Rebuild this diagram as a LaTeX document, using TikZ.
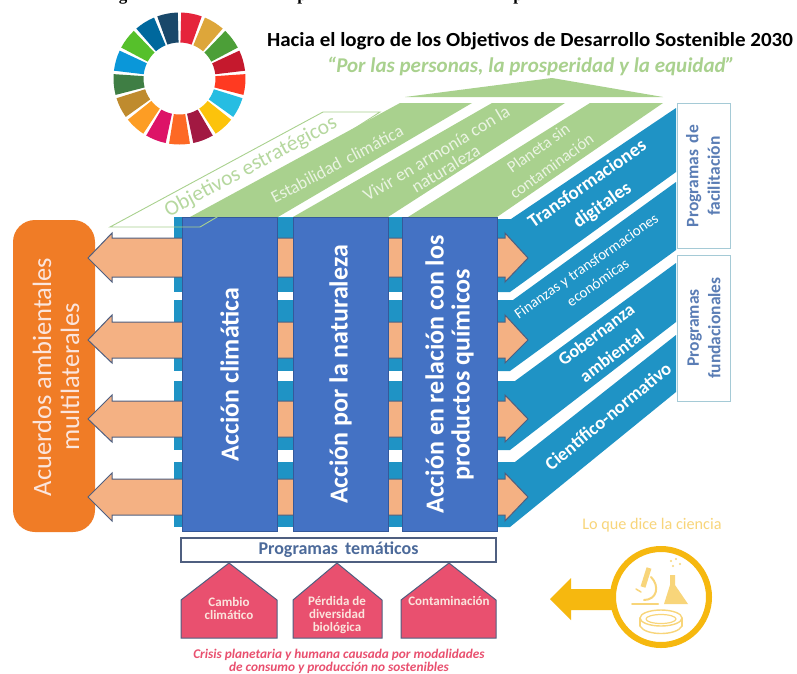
\documentclass[tikz,border=0pt]{standalone}
\usepackage{fontspec}
\setmainfont{Carlito}
\newfontfamily\titleserif{Liberation Serif}
\usetikzlibrary{shapes.geometric}
\definecolor{sdgA}{HTML}{E5243B}\definecolor{sdgB}{HTML}{DDA63A}\definecolor{sdgC}{HTML}{4C9F38}
\definecolor{sdgD}{HTML}{C5192D}\definecolor{sdgE}{HTML}{FF3A21}\definecolor{sdgF}{HTML}{26BDE2}
\definecolor{sdgG}{HTML}{FCC30B}\definecolor{sdgH}{HTML}{A21942}\definecolor{sdgI}{HTML}{FD6925}
\definecolor{sdgJ}{HTML}{DD1367}\definecolor{sdgK}{HTML}{FD9D24}\definecolor{sdgL}{HTML}{BF8B2E}
\definecolor{sdgM}{HTML}{3F7E44}\definecolor{sdgN}{HTML}{0A97D9}\definecolor{sdgO}{HTML}{56C02B}
\definecolor{sdgP}{HTML}{00689D}\definecolor{sdgQ}{HTML}{19486A}
\definecolor{leaf}{HTML}{A9D18E}\definecolor{leaflight}{HTML}{EAF4E2}
\definecolor{sky}{HTML}{1F93C5}\definecolor{royal}{HTML}{4472C4}\definecolor{royaldark}{HTML}{35599A}
\definecolor{peach}{HTML}{F4B183}\definecolor{slatey}{HTML}{4F5F80}\definecolor{tangerine}{HTML}{F07C26}
\definecolor{rosey}{HTML}{E9506F}\definecolor{gold}{HTML}{F6B80F}\definecolor{goldlight}{HTML}{F8D57A}
\definecolor{progblue}{HTML}{5A7DB5}\definecolor{boxedge}{HTML}{A5CAD6}\definecolor{pinkwhite}{HTML}{FBE5DD}
\newcommand{\fs}[1]{\fontsize{#1}{#1}\selectfont}
\tikzset{
  lbl/.style={inner sep=0pt,align=center},
  colbox/.style={draw=royaldark,line width=.8pt,fill=royal,text=white,inner sep=0pt,rotate=90,
    minimum width=314pt,minimum height=95pt,align=center,font=\bfseries\fs{26}},
  arrowshape/.style={fill=peach,draw=slatey,line width=1pt,line join=miter},
  band/.style={fill=sky},
  greenband/.style={fill=leaf},
  progbox/.style={draw=boxedge,line width=1pt,fill=white},
  house/.style={fill=rosey,draw=slatey,line width=1pt,line join=miter},
  wh/.style={lbl,text=white,font=\fs{16}},
  gr/.style={lbl,text=leaflight,font=\fs{15}},
  prog/.style={lbl,text=progblue,font=\bfseries\fs{17.5},rotate=90},
  hl/.style={lbl,text=pinkwhite,font=\bfseries\fs{13}},
  icon/.style={draw=goldlight,line width=2pt,line cap=round,line join=round}
}
\begin{document}
\begin{tikzpicture}[x=1pt,y=-1pt]
\path[use as bounding box,fill=white] (0,0) rectangle (797,673);
\clip (0,0) rectangle (797,673);
% clipped title remnants
\node[anchor=base,inner sep=0pt,font=\titleserif\bfseries\fs{17}] (tg) at (123,0) {g};
\node[anchor=base,inner sep=0pt,font=\titleserif\bfseries\fs{17}] (tp) at (302,0) {p};
\node[anchor=base,inner sep=0pt,font=\titleserif\bfseries\fs{17}] (tq) at (518,0) {p};
% SDG wheel
\foreach \c [count=\i from 0] in {sdgA,sdgB,sdgC,sdgD,sdgE,sdgF,sdgG,sdgH,sdgI,sdgJ,sdgK,sdgL,sdgM,sdgN,sdgO,sdgP,sdgQ}{
  \pgfmathsetmacro\aa{-90+\i*360/17+1.5}
  \pgfmathsetmacro\ab{\aa+4.55}\pgfmathsetmacro\ac{\aa+9.1}\pgfmathsetmacro\ad{\aa+13.65}\pgfmathsetmacro\ae{\aa+18.18}
  \fill[\c,shift={(179.5,78.5)}] (\aa:66)--(\ab:66)--(\ac:66)--(\ad:66)--(\ae:66)--(\ae:36)--(\ad:36)--(\ac:36)--(\ab:36)--(\aa:36)--cycle;
}
% headings
\node[lbl,font=\bfseries\fs{20},xscale=1.05] (head) at (530,41) {Hacia el logro de los Objetivos de Desarrollo Sostenible 2030};
\node[lbl,text=leaf,font=\bfseries\itshape\fs{21}] (quote) at (531,66) {“Por las personas, la prosperidad y la equidad”};
% green roof
\fill[greenband] (405,97)--(552,78)--(663,97)--cycle;
\fill[greenband] (190,217)--(400,103)--(472,103)--(278,217)--cycle;
\fill[greenband] (293,217)--(492,103)--(565,103)--(388,217)--cycle;
\fill[greenband] (408,217)--(590,103)--(663,103)--(497,217)--cycle;
% blue back and side bands
\fill[band] (174,217) rectangle (497,527);
\fill[white] (174,292) rectangle (497,300);
\fill[white] (174,371) rectangle (497,381);
\fill[white] (174,450) rectangle (497,462);
\fill[band] (497,219)--(511,219)--(676,108)--(676,172)--(510,292)--(497,292)--cycle;
\fill[band] (497,300)--(513,300)--(676,182)--(676,250)--(510,371)--(497,371)--cycle;
\fill[band] (497,381)--(515,381)--(676,263)--(676,322)--(510,450)--(497,450)--cycle;
\fill[band] (497,462)--(515,462)--(676,335)--(676,392)--(510,527)--(497,527)--cycle;
% left panel
\node[fill=tangerine,rounded corners=22pt,minimum width=82pt,minimum height=312pt,inner sep=0pt] (acu) at (54,376) {};
\node[lbl,text=pinkwhite,rotate=90,font=\fs{26.5}] (acut) at (56,377) {Acuerdos ambientales\\[1.5pt]multilaterales};
% arrows
\foreach \yy/\ha/\ba/\bb/\hb in {258/233/238/277/282,340/315/322/358/363,419/395/401/437/442,497/473/479/515/521}{
  \draw[arrowshape] (88,\yy)--(112,\ha)--(112,\ba)--(505,\ba)--(505,\ha)--(528,\yy)--(505,\hb)--(505,\bb)--(112,\bb)--(112,\hb)--cycle;
}
% columns
\node[colbox] (c1) at (229.5,374.5) {Acción climática};
\node[colbox] (c2) at (340.5,374.5) {Acción por la naturaleza};
\node[colbox] (c3) at (449.5,374.5) {\fontsize{26}{34}\selectfont Acción en relación con los\\productos químicos};
% objetivos outline
\draw[leaf,line width=.9pt,line join=miter] (110,227)--(323,112)--(380,112)--(217,217)--(200,227)--cycle;
\node[lbl,text=leaf!85!white,rotate=28,font=\fs{21.5}] (obj) at (251,167) {Objetivos estratégicos};
% green labels
\node[gr,rotate=28,font=\fs{17.5}] (est) at (337,164) {Estabilidad\, climática};
\node[gr,rotate=31,font=\fs{18}] (viv) at (441,161) {Vivir en armonía con la\\naturaleza};
\node[gr,rotate=36,font=\fs{16.5}] (pla) at (545,157) {Planeta sin\\[6pt]contaminación};
% blue labels
\node[wh,rotate=35,font=\bfseries\fs{19}] (tra) at (595,195) {Transformaciones\\[7pt]digitales};
\node[wh,rotate=35,font=\fs{15}] (fin) at (592,274) {Finanzas y transformaciones\\[5pt]económicas};
\node[wh,rotate=37,font=\bfseries\fs{18}] (gob) at (604,345) {Gobernanza\\[8pt]ambiental};
\node[wh,rotate=39.6,font=\bfseries\fs{18.5}] (cie) at (608,416) {Científico-normativo};
% programme boxes
\draw[progbox] (677,103) rectangle (730,248);
\draw[progbox] (677,255) rectangle (730,401);
\node[prog] (pf) at (703,176) {Programas\, de\\[4pt]facilitación};
\node[prog] (pd) at (704,328) {Programas\\[4pt]fundacionales};
% tematicos
\node[draw=slatey,line width=1.2pt,fill=white,minimum width=315pt,minimum height=24pt,inner sep=0pt,text=progblue!85!black,font=\bfseries\fs{18}] (tem) at (338.5,550) {Programas\, temáticos};
\draw[house] (181,600)--(229,563)--(277,600)--(277,638)--(181,638)--cycle;
\draw[house] (293,600)--(337,563)--(382,600)--(382,638)--(293,638)--cycle;
\draw[house] (401,600)--(449,563)--(496,600)--(496,638)--(401,638)--cycle;
\node[hl] (h1) at (229,608.5) {\fontsize{13}{16.5}\selectfont Cambio\\climático};
\node[hl] (h2) at (337,615.5) {\fontsize{13}{16.5}\selectfont Pérdida de\\diversidad\\biológica};
\node[hl] (h3) at (449,601) {Contaminación};
\node[lbl,text=rosey,font=\bfseries\itshape\fontsize{13.3}{13.5}\selectfont] (cri) at (339,661.5) {Crisis planetaria y humana causada por modalidades\\de consumo y producción no sostenibles};
% science
\node[lbl,text=goldlight,font=\fs{16.2}] (lo) at (652,525) {Lo que dice la ciencia};
\fill[gold] (550,599)--(571,578)--(571,589)--(612,589)--(612,610)--(571,610)--(571,620)--cycle;
\node[circle,draw=gold,line width=6pt,fill=white,minimum size=96pt,inner sep=0pt] (sci) at (661,597) {};
% microscope
\draw[icon,line width=5pt,line cap=butt] (649,568)--(643,587);
\draw[icon] (651,577) .. controls (660,586) and (657,600) .. (644,600);
\draw[icon] (632,604)--(658,604);
\draw[icon,line width=1.5pt] (636,589)--(641,592);
% flask
\fill[goldlight] (670,575)--(675,575)--(675,585)--(688,604)--(664,604)--(670,585)--cycle;
\foreach \px/\py in {673/566,680/564,676/559,671/561}{\fill[goldlight] (\px,\py) circle (1.1pt);}
% petri
\draw[icon,line width=1.4pt] (661,618) ellipse (21pt and 8pt);
\draw[icon,line width=1.4pt] (640,618)--(640,626);
\draw[icon,line width=1.4pt] (682,618)--(682,626);
\draw[icon,line width=1.4pt] (640,626) .. controls (645,636) and (677,636) .. (682,626);
\draw[icon,line width=1.2pt] (661,619) ellipse (15pt and 4.5pt);
\end{tikzpicture}
\end{document}
